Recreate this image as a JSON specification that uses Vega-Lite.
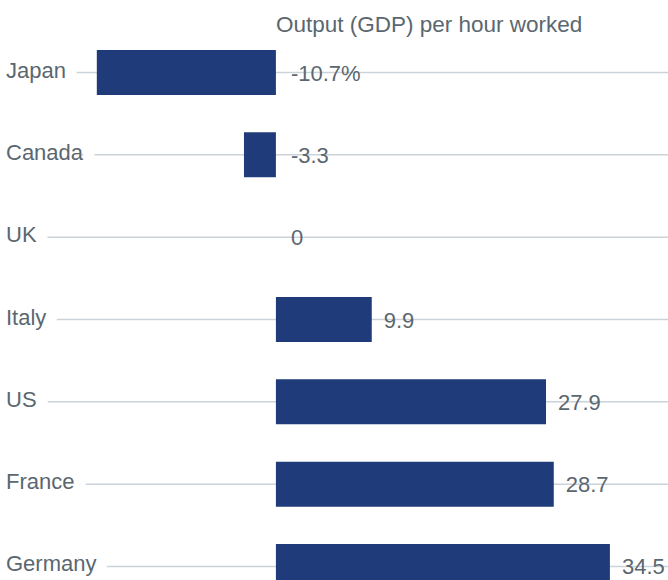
{
  "$schema": "https://vega.github.io/schema/vega-lite/v6.json",
  "autosize": "none",
  "padding": {"top": 50, "left": 0, "right": 0, "bottom": 0},
  "width": 668,
  "height": 539,
  "title": {
    "text": "Output (GDP) per hour worked",
    "anchor": "start",
    "frame": "group",
    "dx": 276,
    "dy": 23,
    "offset": 19,
    "baseline": "alphabetic",
    "font": "Liberation Sans",
    "fontSize": 22.5,
    "fontWeight": "normal",
    "color": "#5b6770"
  },
  "config": {
    "view": {"stroke": null},
    "text": {"font": "Liberation Sans", "fontSize": 22, "color": "#5b6770"}
  },
  "data": {
    "values": [
      {"country": "Japan", "value": -18.5, "label": "-10.7%"},
      {"country": "Canada", "value": -3.3, "label": "-3.3"},
      {"country": "UK", "value": 0, "label": "0"},
      {"country": "Italy", "value": 9.9, "label": "9.9"},
      {"country": "US", "value": 27.9, "label": "27.9"},
      {"country": "France", "value": 28.7, "label": "28.7"},
      {"country": "Germany", "value": 34.5, "label": "34.5"}
    ]
  },
  "encoding": {
    "y": {
      "field": "country",
      "type": "nominal",
      "sort": null,
      "axis": null,
      "scale": {"paddingInner": 0.4534, "paddingOuter": 0}
    }
  },
  "layer": [
    {
      "mark": {"type": "rule", "color": "#cbd3da", "strokeWidth": 1.5},
      "encoding": {
        "y": {"field": "country", "type": "nominal", "sort": null, "bandPosition": 0.5},
        "x": {"datum": -28.5, "type": "quantitative", "scale": {"domain": [-28.5, 40.5], "nice": false, "zero": false}, "axis": null},
        "x2": {"datum": 40.5}
      }
    },
    {
      "mark": {"type": "text", "align": "left", "baseline": "middle", "dx": 6, "dy": -2, "stroke": "white", "strokeWidth": 24, "strokeJoin": "round", "fill": "white"},
      "encoding": {
        "y": {"field": "country", "type": "nominal", "sort": null, "bandPosition": 0.5},
        "x": {"datum": -28.5, "type": "quantitative"},
        "text": {"field": "country"}
      }
    },
    {
      "mark": {"type": "text", "align": "left", "baseline": "middle", "dx": 6, "dy": -2},
      "encoding": {
        "y": {"field": "country", "type": "nominal", "sort": null, "bandPosition": 0.5},
        "x": {"datum": -28.5, "type": "quantitative"},
        "text": {"field": "country"}
      }
    },
    {
      "mark": {"type": "bar", "color": "#1f3b7a"},
      "encoding": {
        "x": {"field": "value", "type": "quantitative"},
        "x2": {"datum": 0}
      }
    },
    {
      "mark": {"type": "rule", "color": "#cbd3da", "strokeWidth": 1.5},
      "encoding": {
        "x": {"datum": 0, "type": "quantitative"}
      }
    },
    {
      "transform": [{"filter": "datum.value > 0"}],
      "mark": {"type": "text", "align": "left", "baseline": "middle", "dx": 12, "dy": 1},
      "encoding": {
        "y": {"field": "country", "type": "nominal", "sort": null, "bandPosition": 0.5},
        "x": {"field": "value", "type": "quantitative"},
        "text": {"field": "label"}
      }
    },
    {
      "transform": [{"filter": "datum.value <= 0"}],
      "mark": {"type": "text", "align": "left", "baseline": "middle", "dx": 15, "dy": 1},
      "encoding": {
        "y": {"field": "country", "type": "nominal", "sort": null, "bandPosition": 0.5},
        "x": {"datum": 0, "type": "quantitative"},
        "text": {"field": "label"}
      }
    }
  ]
}
